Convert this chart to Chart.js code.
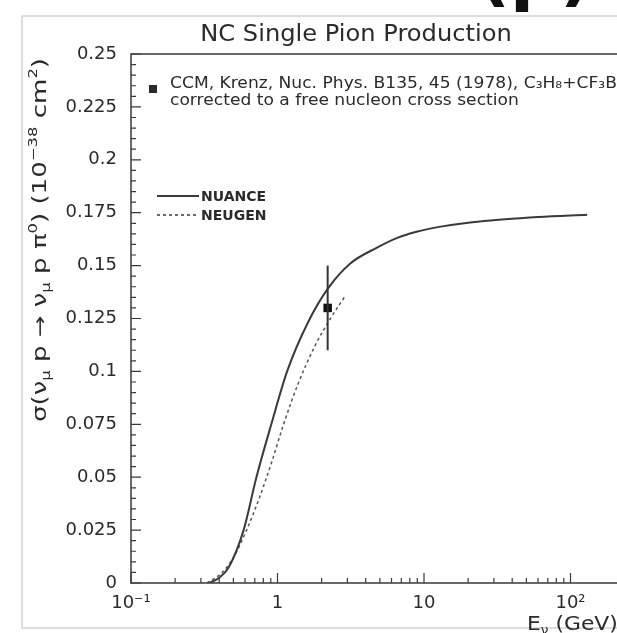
<!DOCTYPE html>
<html>
<head>
<meta charset="utf-8">
<script src="https://cdn.jsdelivr.net/npm/chart.js@4/dist/chart.umd.min.js"></script>
<style>
  html, body { margin: 0; padding: 0; background: #fff; }
  #wrap { width: 617px; height: 633px; }
</style>
</head>
<body>
<div id="wrap"><canvas id="sigmaChart" width="617" height="633"></canvas></div>
<script>
// NC single pion production: sigma(nu_mu p -> nu_mu p pi0) vs E_nu

// NUANCE prediction (solid)
const nuanceEnergy = [0.341, 0.4, 0.466, 0.587, 0.718, 0.907, 1.163, 1.61, 2.2, 3.14, 4.78, 6.51, 8.89, 12.7, 20, 30.8, 60, 130];
const nuanceSigma  = [0, 0.0025, 0.0076, 0.025, 0.05, 0.075, 0.1, 0.123, 0.139, 0.151, 0.1585, 0.163, 0.166, 0.1683, 0.1703, 0.1715, 0.173, 0.174];

// NEUGEN prediction (dashed)
const neugenEnergy = [0.33, 0.42, 0.5, 0.615, 0.75, 0.907, 1.1, 1.38, 1.8, 2.3, 2.92];
const neugenSigma  = [0, 0.005, 0.012, 0.025, 0.04, 0.0565, 0.075, 0.094, 0.112, 0.125, 0.136];

// CCM measurement, Krenz et al.
const ccmEnergy = [2.2];
const ccmSigma  = [0.13];
const ccmError  = [0.02];

// axis ticks
const xTickValues = [0.1, 1, 10, 100];
const xTickLabels = ['10\u207B\u00B9', '1', '10', '10\u00B2'];
const yTickValues = [0, 0.025, 0.05, 0.075, 0.1, 0.125, 0.15, 0.175, 0.2, 0.225, 0.25];
const yTickLabels = ['0', '0.025', '0.05', '0.075', '0.1', '0.125', '0.15', '0.175', '0.2', '0.225', '0.25'];

const FONT = 'DejaVu Sans';
const INK = '#2a2a2a';

function toPoints(xs, ys) {
    return xs.map((x, i) => ({ x: x, y: ys[i] }));
}

// draws a list of [text, size, yShift] runs one after another
function drawRuns(ctx, runs, x, y, bold) {
    let cx = x;
    runs.forEach(([txt, size, dy]) => {
        ctx.font = (bold ? 'bold ' : '') + size + 'px "' + FONT + '"';
        ctx.fillText(txt, cx, y + dy);
        cx += ctx.measureText(txt).width;
    });
    return cx - x;
}

function runsWidth(ctx, runs) {
    let w = 0;
    runs.forEach(([txt, size]) => {
        ctx.font = size + 'px "' + FONT + '"';
        w += ctx.measureText(txt).width;
    });
    return w;
}

// text drawn wider than the font's natural width
function wideText(ctx, txt, x, y, sx) {
    ctx.save();
    ctx.translate(x, y);
    ctx.scale(sx, 1);
    ctx.fillText(txt, 0, 0);
    ctx.restore();
}

const outerFrame = {
    id: 'outerFrame',
    beforeDraw(chart) {
        const ctx = chart.ctx;
        ctx.save();
        ctx.fillStyle = '#fff';
        ctx.fillRect(0, 0, chart.width, chart.height);
        ctx.strokeStyle = '#d4d4d4';
        ctx.lineWidth = 1.5;
        ctx.beginPath();
        ctx.moveTo(chart.width, 16);
        ctx.lineTo(22, 16);
        ctx.lineTo(22, 628);
        ctx.lineTo(chart.width, 628);
        ctx.stroke();
        ctx.restore();
    }
};

const axisBox = {
    id: 'axisBox',
    afterDraw(chart) {
        const { ctx, chartArea: a, scales: { x, y } } = chart;
        ctx.save();
        ctx.strokeStyle = '#3a3a3a';
        ctx.lineWidth = 1.5;
        ctx.beginPath();
        ctx.moveTo(chart.width, a.top);
        ctx.lineTo(a.left, a.top);
        ctx.lineTo(a.left, a.bottom);
        ctx.lineTo(chart.width, a.bottom);
        ctx.stroke();

        // y ticks, 5 minor divisions per major step
        ctx.lineWidth = 1.2;
        ctx.beginPath();
        for (let i = 0; i < yTickValues.length; i++) {
            const py = y.getPixelForValue(yTickValues[i]);
            ctx.moveTo(a.left, py);
            ctx.lineTo(a.left + 10, py);
            if (i + 1 < yTickValues.length) {
                const step = (yTickValues[i + 1] - yTickValues[i]) / 5;
                for (let k = 1; k < 5; k++) {
                    const my = y.getPixelForValue(yTickValues[i] + k * step);
                    ctx.moveTo(a.left, my);
                    ctx.lineTo(a.left + 5, my);
                }
            }
        }
        // x ticks, log decades with 2..9 minors
        xTickValues.forEach(d => {
            const px = x.getPixelForValue(d);
            ctx.moveTo(px, a.bottom);
            ctx.lineTo(px, a.bottom - 10);
            for (let k = 2; k <= 9; k++) {
                const v = d * k;
                if (v > x.max) break;
                const mx = x.getPixelForValue(v);
                ctx.moveTo(mx, a.bottom);
                ctx.lineTo(mx, a.bottom - 5);
            }
        });
        ctx.stroke();
        ctx.restore();
    }
};

const errorBars = {
    id: 'errorBars',
    afterDatasetsDraw(chart) {
        const { ctx, scales: { x, y } } = chart;
        ctx.save();
        ctx.strokeStyle = '#333';
        ctx.lineWidth = 2;
        ctx.beginPath();
        ccmEnergy.forEach((e, i) => {
            const px = x.getPixelForValue(e);
            ctx.moveTo(px, y.getPixelForValue(ccmSigma[i] + ccmError[i]));
            ctx.lineTo(px, y.getPixelForValue(ccmSigma[i] - ccmError[i]));
        });
        ctx.stroke();
        ctx.restore();
    }
};

const labels = {
    id: 'labels',
    afterDraw(chart) {
        const ctx = chart.ctx;
        ctx.save();
        ctx.fillStyle = INK;
        ctx.textBaseline = 'alphabetic';

        // title
        ctx.font = '23px "' + FONT + '"';
        ctx.textAlign = 'center';
        wideText(ctx, 'NC Single Pion Production', 356, 41, 1.05);

        // panel letter from the neighbouring figure, clipped by the top edge
        ctx.textAlign = 'left';
        ctx.fillStyle = '#111';
        ctx.font = 'bold 70px "' + FONT + '"';
        ctx.fillText('(p)', 478, -2);
        ctx.fillStyle = INK;

        // data legend
        ctx.fillRect(149, 85, 8, 8);
        ctx.font = '15px "' + FONT + '"';
        wideText(ctx, 'CCM, Krenz, Nuc. Phys. B135, 45 (1978), C\u2083H\u2088+CF\u2083Br', 170, 88, 1.14);
        wideText(ctx, 'corrected to a free nucleon cross section', 170, 105, 1.14);

        // model legend
        ctx.strokeStyle = '#3a3a3a';
        ctx.lineWidth = 2;
        ctx.beginPath();
        ctx.moveTo(157, 196);
        ctx.lineTo(199, 196);
        ctx.stroke();
        ctx.setLineDash([3, 3]);
        ctx.lineWidth = 1.5;
        ctx.beginPath();
        ctx.moveTo(157, 215);
        ctx.lineTo(199, 215);
        ctx.stroke();
        ctx.setLineDash([]);
        ctx.font = 'bold 14px "' + FONT + '"';
        ctx.fillText('NUANCE', 201, 201);
        ctx.fillText('NEUGEN', 201, 220);

        // x axis title
        ctx.save();
        ctx.translate(527, 630);
        ctx.scale(1.15, 1);
        drawRuns(ctx, [['E', 19, 0], ['\u03BD', 12, 4], [' (GeV)', 19, 0]], 0, 0);
        ctx.restore();

        // y axis title, rotated and stretched along its length
        const yRuns = [
            ['\u03C3(\u03BD', 19, 0], ['\u03BC', 12, 4], [' p \u2192 \u03BD', 19, 0], ['\u03BC', 12, 4],
            [' p \u03C0', 19, 0], ['0', 12, -9], [') (10', 19, 0], ['\u221238', 12, -9],
            [' cm', 19, 0], ['2', 12, -9], [')', 19, 0]
        ];
        const natural = runsWidth(ctx, yRuns);
        const stretch = 364 / natural;
        ctx.translate(46, 240);
        ctx.rotate(-Math.PI / 2);
        ctx.scale(stretch, 1);
        drawRuns(ctx, yRuns, -natural / 2, 0);
        ctx.restore();
    }
};

new Chart(document.getElementById('sigmaChart'), {
    type: 'line',
    data: {
        datasets: [
            {
                label: 'NUANCE',
                data: toPoints(nuanceEnergy, nuanceSigma),
                borderColor: '#3a3a3a',
                borderWidth: 2,
                pointRadius: 0,
                cubicInterpolationMode: 'monotone',
                fill: false
            },
            {
                label: 'NEUGEN',
                data: toPoints(neugenEnergy, neugenSigma),
                borderColor: '#555',
                borderWidth: 1.5,
                borderDash: [3, 3],
                pointRadius: 0,
                cubicInterpolationMode: 'monotone',
                fill: false
            },
            {
                label: 'CCM',
                data: toPoints(ccmEnergy, ccmSigma),
                showLine: false,
                pointStyle: 'rect',
                pointRadius: 6,
                backgroundColor: '#111',
                borderColor: '#111',
                borderWidth: 0
            }
        ]
    },
    options: {
        responsive: false,
        devicePixelRatio: 1,
        animation: false,
        layout: { padding: { left: 0, right: 0, top: 54, bottom: 0 } },
        plugins: {
            legend: { display: false },
            tooltip: { enabled: false }
        },
        scales: {
            x: {
                type: 'logarithmic',
                min: 0.1,
                max: 189,
                grid: { display: false, drawTicks: false },
                border: { display: false },
                afterBuildTicks: scale => { scale.ticks = xTickValues.map(v => ({ value: v })); },
                afterFit: scale => {
                    scale.height = 50;
                    scale.paddingLeft = 0;
                    scale.paddingRight = 0;
                },
                ticks: {
                    autoSkip: false,
                    maxRotation: 0,
                    padding: 10,
                    color: INK,
                    font: { family: FONT, size: 18 },
                    callback: v => xTickLabels[xTickValues.indexOf(v)]
                }
            },
            y: {
                min: 0,
                max: 0.25,
                grid: { display: false, drawTicks: false },
                border: { display: false },
                afterBuildTicks: scale => { scale.ticks = yTickValues.map(v => ({ value: v })); },
                afterFit: scale => { scale.width = 131; },
                ticks: {
                    autoSkip: false,
                    padding: 14,
                    color: INK,
                    font: { family: FONT, size: 18 },
                    callback: v => yTickLabels[yTickValues.indexOf(v)]
                }
            }
        }
    },
    plugins: [outerFrame, axisBox, errorBars, labels]
});
</script>
</body>
</html>
